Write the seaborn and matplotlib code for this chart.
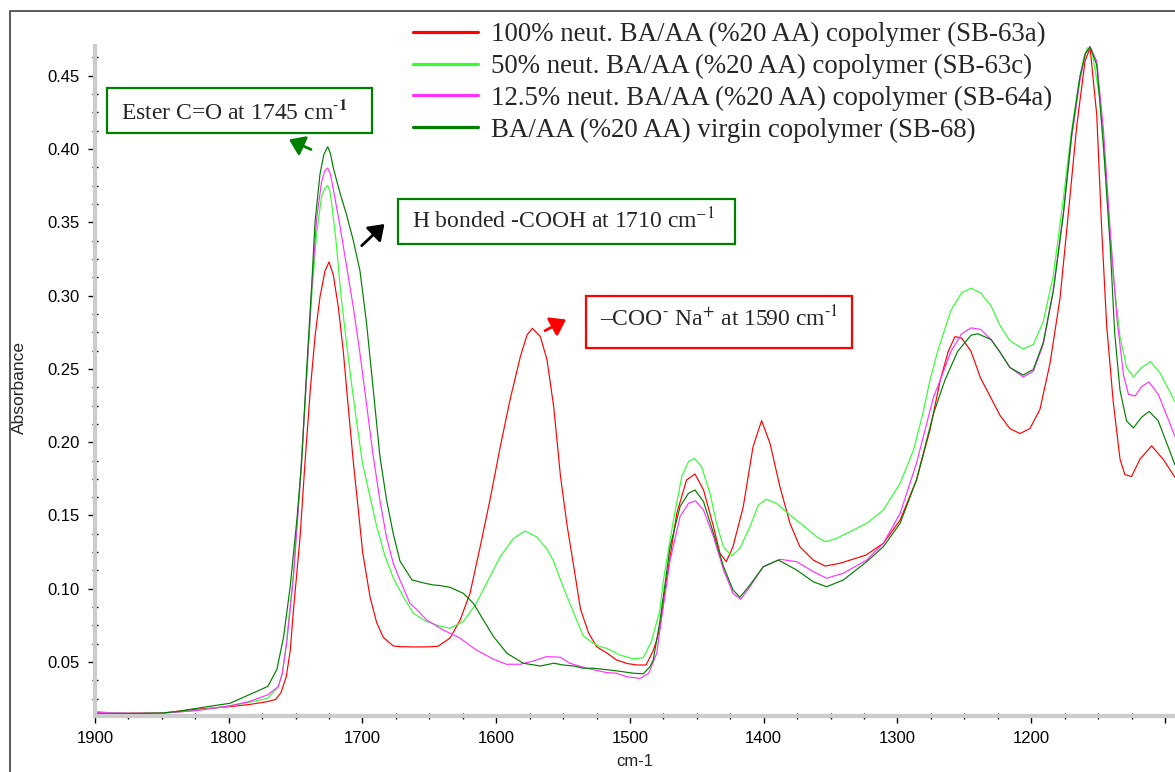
import numpy as np
import pandas as pd
import matplotlib
matplotlib.use("Agg")
import matplotlib.pyplot as plt
import seaborn as sns
from matplotlib.patches import Rectangle, FancyArrowPatch
from matplotlib.lines import Line2D
from matplotlib.ticker import MultipleLocator, FixedLocator

# ---------------- data ----------------
labels = [
    "100% neut. BA/AA (%20 AA) copolymer (SB-63a)",
    "50% neut. BA/AA (%20 AA) copolymer (SB-63c)",
    "12.5% neut. BA/AA (%20 AA) copolymer (SB-64a)",
    "BA/AA (%20 AA) virgin copolymer (SB-68)",
]
colors = ["#ff0000", "#33ff33", "#ff33ff", "#008000"]

red_wn = [1900, 1875, 1850, 1828, 1800, 1785, 1771, 1765, 1761, 1757, 1754, 1751.7, 1746.7, 1743, 1739,
          1735.5, 1731.8, 1728, 1725, 1721.8, 1718, 1714.3, 1710.6, 1706.8, 1703, 1699.9, 1694.4, 1689.4,
          1684.4, 1677, 1672, 1660, 1650, 1643.5, 1634.6, 1627, 1619.6, 1612, 1604.7, 1597, 1589.7, 1582,
          1577, 1573, 1567, 1562, 1557, 1552, 1547, 1542, 1537, 1531, 1525, 1517, 1510, 1502, 1495, 1488,
          1483, 1480, 1477.6, 1472.7, 1465, 1457.7, 1451.4, 1445, 1437.6, 1432.7, 1428, 1423, 1415.3, 1408,
          1401.6, 1395.3, 1387.9, 1380.4, 1373, 1363, 1354, 1343, 1323.5, 1310.6, 1298, 1285.8, 1275.7,
          1268, 1262, 1257, 1252, 1245, 1238, 1230, 1223.4, 1216, 1208.4, 1201, 1193.5, 1186, 1178.5,
          1172.3, 1166, 1159.8, 1156, 1151, 1147.3, 1143.6, 1138.7, 1133.6, 1130, 1125, 1118.7, 1110,
          1101.4, 1092.5]
red_abs = [0.0151, 0.0151, 0.0152, 0.0175, 0.0195, 0.021, 0.023, 0.0245, 0.029, 0.040, 0.058, 0.0845, 0.135,
           0.186, 0.236, 0.272, 0.299, 0.317, 0.323, 0.314, 0.2917, 0.2615, 0.2235, 0.186, 0.1527, 0.125,
           0.0946, 0.0769, 0.0668, 0.061, 0.0605, 0.0603, 0.0604, 0.0608, 0.0663, 0.0787, 0.0969, 0.1287,
           0.1606, 0.1969, 0.2288, 0.2583, 0.2731, 0.2777, 0.272, 0.256, 0.224, 0.177, 0.143, 0.115, 0.086,
           0.070, 0.0605, 0.056, 0.0514, 0.049, 0.048, 0.048, 0.057, 0.065, 0.074, 0.106, 0.1515, 0.1742,
           0.1783, 0.1674, 0.1424, 0.1242, 0.1185, 0.1287, 0.156, 0.1969, 0.2147, 0.1992, 0.1696, 0.1447,
           0.1287, 0.1196, 0.1155, 0.1174, 0.123, 0.131, 0.1469, 0.1742, 0.2083, 0.2424, 0.262, 0.272,
           0.271, 0.262, 0.2440, 0.230, 0.2184, 0.2093, 0.2059, 0.2093, 0.2223, 0.2536, 0.298, 0.3555,
           0.4155, 0.4599, 0.469, 0.4233, 0.345, 0.2797, 0.2276, 0.1884, 0.1779, 0.1766, 0.1884, 0.1975,
           0.1884, 0.176]

lgreen_wn = [1900, 1890, 1875, 1850, 1825, 1800, 1785, 1771, 1767, 1763, 1760, 1756.7, 1751.7, 1746.7, 1742,
             1738, 1734.3, 1730.6, 1728.3, 1726, 1724.3, 1723, 1719.8, 1716, 1711.8, 1708, 1704.3, 1700,
             1694.4, 1689.4, 1683.2, 1677, 1669.5, 1662, 1652, 1642, 1634.6, 1624.6, 1615, 1604.7, 1597,
             1587, 1578.5, 1570, 1562.4, 1557.5, 1550, 1542, 1535, 1527.4, 1522.4, 1517.4, 1507.5, 1497.5,
             1490, 1484, 1477.6, 1475, 1467.5, 1461.3, 1456.3, 1452, 1446.5, 1440.2, 1435.3, 1430.2, 1424,
             1417.8, 1410.3, 1404, 1398, 1390.5, 1380.4, 1368, 1360.5, 1354, 1345.6, 1335.5, 1323, 1310.6,
             1298, 1288, 1281, 1275.7, 1270, 1260, 1252, 1245, 1238, 1230, 1223.4, 1216, 1206, 1198.4, 1191,
             1183.5, 1176, 1169.8, 1163.6, 1160.5, 1158, 1154.8, 1148.6, 1143.6, 1138.7, 1133.6, 1128.7,
             1123.6, 1117.4, 1110.7, 1103.7, 1092.5]
lgreen_abs = [0.0166, 0.0155, 0.0151, 0.0151, 0.017, 0.020, 0.0225, 0.0253, 0.029, 0.033, 0.042, 0.0644,
              0.1098, 0.1729, 0.2411, 0.2993, 0.3422, 0.3675, 0.3730, 0.375, 0.3710, 0.3625, 0.3373, 0.2993,
              0.2664, 0.2386, 0.2134, 0.1856, 0.1628, 0.1426, 0.1224, 0.1074, 0.0946, 0.0833, 0.0776, 0.0745,
              0.0731, 0.0776, 0.090, 0.1083, 0.1219, 0.1345, 0.1394, 0.1355, 0.1276, 0.1196, 0.1014, 0.0833,
              0.068, 0.0628, 0.0605, 0.0594, 0.0548, 0.0522, 0.053, 0.064, 0.0855, 0.106, 0.1469, 0.1765,
              0.1867, 0.189, 0.1833, 0.1651, 0.1447, 0.1287, 0.1224, 0.1276, 0.1424, 0.1572, 0.1611, 0.1583,
              0.1503, 0.1413, 0.1355, 0.1321, 0.1344, 0.1389, 0.1447, 0.1537, 0.172, 0.1947, 0.2197, 0.2424,
              0.262, 0.290, 0.302, 0.305, 0.302, 0.293, 0.2797, 0.2693, 0.2636, 0.2667, 0.2823, 0.3137, 0.3659,
              0.413, 0.4494, 0.4630, 0.469, 0.4677, 0.4338, 0.3711, 0.3137, 0.2719, 0.251, 0.2445, 0.251,
              0.255, 0.2472, 0.2276]

magenta_wn = [1900, 1875, 1850, 1825, 1800, 1785, 1771, 1763, 1760, 1756.7, 1751.7, 1746.7, 1742, 1738,
              1734.3, 1730.6, 1728.3, 1726, 1724, 1721.8, 1716.8, 1711.8, 1706.8, 1702, 1697, 1692, 1687,
              1682, 1677, 1672, 1664.5, 1659.6, 1652, 1639.6, 1627, 1615, 1602, 1592.4, 1582, 1572.3, 1562.4,
              1552, 1545, 1532.4, 1517.4, 1510, 1502.5, 1492.5, 1486, 1480, 1477.6, 1470, 1462.6, 1456.3,
              1451, 1445, 1437.6, 1430, 1423, 1417.3, 1410.3, 1400.4, 1387.9, 1375.4, 1363, 1353, 1340.5,
              1323, 1310.6, 1298, 1285.8, 1273, 1268, 1260, 1252, 1245, 1238, 1230, 1223.4, 1216, 1206,
              1198.4, 1191, 1183.5, 1176, 1169.8, 1163.6, 1159.5, 1156, 1151, 1146, 1141, 1136, 1131, 1127.3,
              1122.4, 1117.4, 1112, 1105, 1092.5]
magenta_abs = [0.0155, 0.0151, 0.0151, 0.0168, 0.020, 0.023, 0.0276, 0.0332, 0.042, 0.063, 0.107, 0.171,
               0.241, 0.3043, 0.3523, 0.3776, 0.3850, 0.387, 0.3830, 0.3725, 0.3473, 0.3195, 0.2917, 0.2614,
               0.226, 0.1906, 0.1605, 0.135, 0.1174, 0.106, 0.090, 0.086, 0.0787, 0.0719, 0.0663, 0.0583,
               0.0519, 0.0485, 0.0485, 0.0507, 0.0537, 0.0533, 0.0492, 0.0458, 0.0428, 0.0424, 0.040, 0.0389,
               0.0424, 0.056, 0.072, 0.1196, 0.1492, 0.1583, 0.160, 0.1537, 0.1355, 0.1128, 0.0969, 0.0928,
               0.1014, 0.115, 0.1201, 0.1185, 0.1117, 0.1072, 0.1106, 0.1196, 0.131, 0.1515, 0.1856, 0.231,
               0.2424, 0.262, 0.274, 0.278, 0.277, 0.270, 0.2615, 0.251, 0.2445, 0.2484, 0.2667, 0.3032,
               0.3555, 0.4076, 0.4468, 0.4650, 0.4698, 0.4599, 0.413, 0.345, 0.285, 0.2458, 0.2327, 0.2315,
               0.238, 0.2411, 0.2327, 0.204]

dgreen_wn = [1900, 1875, 1850, 1839, 1820, 1799, 1785, 1776.6, 1770.7, 1764, 1759, 1754, 1749, 1745.5,
             1741.8, 1738, 1735.5, 1731.8, 1729, 1726, 1724, 1721.8, 1716.8, 1711.8, 1706.8, 1701.9, 1697,
             1692, 1687, 1682, 1677, 1672, 1663, 1652, 1647, 1642, 1634.6, 1624.6, 1617, 1609.6, 1602, 1592,
             1579.8, 1567, 1557, 1550, 1542, 1535, 1527.4, 1510, 1497.5, 1490, 1485, 1482.6, 1477.6, 1470,
             1462.6, 1456.3, 1451.4, 1445, 1437.6, 1430, 1423, 1417.8, 1410.3, 1400.4, 1389, 1375.4, 1363,
             1353, 1340.5, 1323, 1310.6, 1298, 1285.8, 1273, 1264.5, 1255, 1245, 1240, 1230, 1223.4, 1216,
             1206, 1198.4, 1191, 1183.5, 1176, 1169.8, 1163.6, 1159.5, 1156, 1151, 1146, 1141, 1137.6, 1133.6,
             1128.7, 1123.6, 1117.4, 1111.8, 1105, 1092.5]
dgreen_abs = [0.0145, 0.0148, 0.0152, 0.0162, 0.019, 0.0219, 0.0276, 0.031, 0.0335, 0.045, 0.0671, 0.102,
              0.1477, 0.186, 0.2488, 0.3068, 0.350, 0.3827, 0.3960, 0.4016, 0.3970, 0.3870, 0.370, 0.3548,
              0.3373, 0.317, 0.2816, 0.2363, 0.1906, 0.1605, 0.1376, 0.119, 0.106, 0.1035, 0.1026, 0.1022,
              0.101, 0.0969, 0.090, 0.0787, 0.0673, 0.056, 0.0492, 0.0473, 0.0492, 0.048, 0.0473, 0.0458,
              0.0458, 0.0440, 0.0424, 0.0420, 0.0469, 0.0514, 0.078, 0.1287, 0.156, 0.1651, 0.1674, 0.1594,
              0.1379, 0.115, 0.0992, 0.0942, 0.1026, 0.115, 0.1196, 0.1128, 0.1048, 0.1014, 0.106, 0.1185,
              0.1287, 0.1447, 0.1742, 0.2197, 0.2424, 0.262, 0.273, 0.274, 0.270, 0.2615, 0.251, 0.2458,
              0.2497, 0.268, 0.3032, 0.3555, 0.410, 0.4494, 0.4650, 0.4698, 0.4573, 0.4025, 0.3345, 0.2745,
              0.2353, 0.2145, 0.2098, 0.2171, 0.221, 0.2145, 0.1845]

x_major = [1900, 1800, 1700, 1600, 1500, 1400, 1300, 1200, 1100]
x_labels = ["1900", "1800", "1700", "1600", "1500", "1400", "1300", "1200", ""]
y_major = [0.05, 0.10, 0.15, 0.20, 0.25, 0.30, 0.35, 0.40, 0.45]
y_labels = ["0.05", "0.10", "0.15", "0.20", "0.25", "0.30", "0.35", "0.40", "0.45"]

# ---------------- build long table ----------------
frames = []
for lab, wn, ab in zip(labels, [red_wn, lgreen_wn, magenta_wn, dgreen_wn],
                       [red_abs, lgreen_abs, magenta_abs, dgreen_abs]):
    frames.append(pd.DataFrame({"wn": wn, "abs": ab, "series": lab}))
df = pd.concat(frames, ignore_index=True)

# ---------------- figure ----------------
sns.set_style("white")
plt.rcParams["font.family"] = ["Liberation Sans", "DejaVu Sans"]
plt.rcParams["mathtext.fontset"] = "stix"

W, H = 1175, 772
fig = plt.figure(figsize=(W / 100, H / 100), dpi=100)

def fx(x):
    return x / W

def fy(y):
    return 1 - y / H

ax_left, ax_top, ax_bottom = 95, 45.7, 716
ax = fig.add_axes([fx(ax_left), fy(ax_bottom), 1 - fx(ax_left), (ax_bottom - ax_top) / H])

sns.lineplot(data=df, x="wn", y="abs", hue="series", hue_order=labels,
             palette=dict(zip(labels, colors)), estimator=None, sort=False,
             linewidth=0.85, ax=ax, legend=False)

ax.set_xlim(1900, 1092.5)
ax.set_ylim(0.0132, 0.4705)

ax.xaxis.set_major_locator(FixedLocator(x_major))
ax.set_xticklabels(x_labels)
ax.xaxis.set_minor_locator(MultipleLocator(25))
ax.yaxis.set_major_locator(FixedLocator(y_major))
ax.set_yticklabels(y_labels)
ax.yaxis.set_minor_locator(MultipleLocator(0.0125))

for s in ["top", "right"]:
    ax.spines[s].set_visible(False)
for s in ["left", "bottom"]:
    ax.spines[s].set_color("#cccccc")
    ax.spines[s].set_linewidth(3)

ax.tick_params(which="major", direction="out", length=5, width=1, color="black",
               labelsize=12, pad=6, labelcolor="black")
ax.tick_params(which="minor", direction="inout", length=4, width=1, color="black")
ax.tick_params(axis="x", which="both", bottom=True)
ax.tick_params(axis="y", which="both", left=True)

ax.set_xlabel("cm-1", fontsize=12)
ax.set_ylabel("Absorbance", fontsize=12.5)
ax.xaxis.set_label_coords((635 - ax_left) / (W - ax_left), -0.056)
ax.yaxis.set_label_coords(-(95 - 27) / (W - ax_left), 0.49)

# legend
handles = [Line2D([0], [0], color=c, lw=2.3) for c in colors]
leg = ax.legend(handles, labels, loc="upper left", bbox_to_anchor=(fx(413), fy(22)),
                bbox_transform=fig.transFigure, frameon=False, borderpad=0, borderaxespad=0,
                handlelength=2.4, handletextpad=0.5, labelspacing=0.25,
                prop={"family": "Liberation Serif", "size": 19.4})

# outer frame
fig.patches.append(Rectangle((fx(10), -0.5), 2, fy(11) + 0.5, transform=fig.transFigure,
                             fill=False, edgecolor="#404040", lw=1.2))

# annotation boxes
serif = {"family": "Liberation Serif", "size": 17}

def box(x0, y0, x1, y1, color):
    fig.patches.append(Rectangle((fx(x0), fy(y1)), fx(x1 - x0), (y1 - y0) / H,
                                 transform=fig.transFigure, fill=False, edgecolor=color, lw=1.6))

def arrow(xa, ya, xb, yb, color):
    fig.patches.append(FancyArrowPatch((fx(xa), fy(ya)), (fx(xb), fy(yb)), transform=fig.transFigure,
                                       arrowstyle="-|>,head_length=0.6,head_width=0.42",
                                       mutation_scale=15, lw=2, color=color, shrinkA=0, shrinkB=0))

box(106.7, 88.3, 371.7, 132.7, "#008000")
fig.text(fx(120.7), fy(119), r"Ester C=O at 1745 cm$^{\mathbf{\text{-}1}}$", fontdict=serif, va="baseline")
arrow(311, 149.5, 289, 139.5, "#008000")

box(398, 199, 735, 244, "#008000")
fig.text(fx(412), fy(228.5), "H bonded -COOH at 1710 cm$^{\u2013}$$^{1}$", fontdict=serif, va="baseline")
arrow(361.7, 245.7, 384.5, 224, "black")

box(585.7, 296, 851.7, 348.3, "#ff0000")
fig.text(fx(600), fy(326), "\u2013COO$^{\\text{-}}$ Na$^{+}$ at 1590 cm$^{\\text{-}1}$",
         fontdict=serif, va="baseline")
arrow(545, 330.7, 566, 319.5, "#ff0000")

fig.savefig("out.png", dpi=100)
